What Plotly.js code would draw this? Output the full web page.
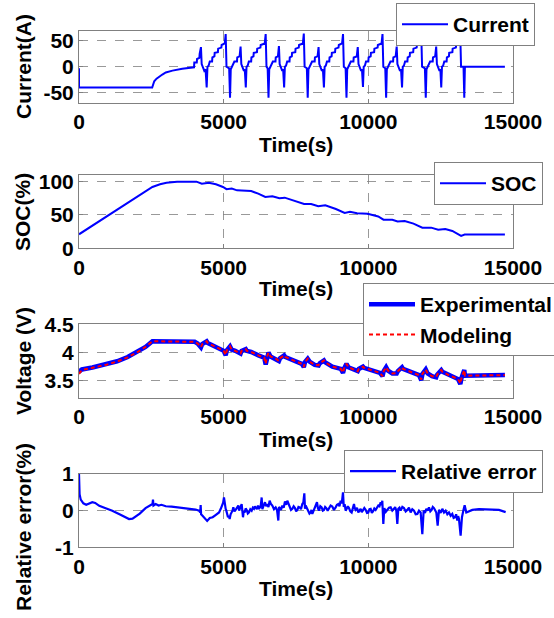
<!DOCTYPE html>
<html>
<head>
<meta charset="utf-8">
<script src="https://cdn.plot.ly/plotly-3.0.1.min.js"></script>
<style>html,body{margin:0;padding:0;background:#fff;}#chart{width:554px;height:618px;}</style>
</head>
<body>
<div id="chart"></div>
<script>
// ---------------- data ----------------
const timeCurrent = [
0, 0, 2530, 2560, 2600, 2680, 2770, 2880, 3000, 3230, 3570, 3920, 3975,
3985, 4070, 4080, 4160, 4170, 4215, 4240, 4280, 4330, 4375, 4413, 4440, 4480, 4520, 4600, 4610, 4680, 4690, 4800, 4810, 4920, 4930, 5038, 5070, 5098, 5190, 5220,
5245, 5280, 5320, 5370, 5460, 5470, 5550, 5560, 5585, 5610, 5650, 5700, 5730, 5765, 5790, 5830, 5870, 5950, 5960, 6030, 6040, 6150, 6160, 6270, 6280, 6420, 6452, 6480, 6520, 6550,
6575, 6610, 6650, 6700, 6790, 6800, 6875, 6885, 6910, 6935, 6975, 7025, 7055, 7090, 7115, 7155, 7195, 7275, 7285, 7355, 7365, 7475, 7485, 7595, 7605, 7738, 7770, 7798, 7875, 7905,
7930, 7965, 8005, 8055, 8145, 8155, 8245, 8255, 8280, 8305, 8345, 8395, 8430, 8465, 8490, 8530, 8570, 8650, 8660, 8730, 8740, 8850, 8860, 8970, 8980, 9093, 9125, 9153, 9215, 9245,
9270, 9305, 9345, 9395, 9485, 9495, 9600, 9610, 9635, 9660, 9700, 9750, 9780, 9815, 9840, 9880, 9920, 10000, 10010, 10080, 10090, 10200, 10210, 10320, 10330, 10458, 10490, 10518, 10585, 10615,
10640, 10675, 10715, 10765, 10855, 10865, 10945, 10955, 10980, 11005, 11045, 11095, 11130, 11165, 11190, 11230, 11270, 11350, 11360, 11430, 11440, 11550, 11560, 11670, 11680, 11798, 11830, 11858, 11955, 11985,
12010, 12045, 12085, 12135, 12225, 12235, 12310, 12320, 12345, 12370, 12410, 12460, 12490, 12520, 12545, 12585, 12625, 12705, 12715, 12785, 12795, 12905, 12915, 13025, 13035, 13148, 13180, 13205, 13290, 13316, 13338, 14720
];
const current = [
-3, -40, -40, -34, -28, -23, -19, -15, -11, -7.5, -4, -1.5, -1,
8, 8, 15, 17, 25, 38, 5, 0, -8, -5, -40, 0, 2, 10, 10, 18, 20, 27, 28, 35, 37, 42, 45, 63, 0, -3, -60,
-5, 0, 5, 10, 10, 18, 20, 27, 39, 5, 0, -8, -5, -40, 0, 2, 10, 10, 18, 20, 27, 28, 35, 37, 42, 45, 63, 0, -3, -60,
-5, 0, 5, 10, 10, 18, 20, 27, 40, 5, 0, -8, -5, -40, 0, 2, 10, 10, 18, 20, 27, 28, 35, 37, 42, 45, 64, 0, -3, -60,
-5, 0, 5, 10, 10, 18, 20, 27, 38, 5, 0, -8, -5, -40, 0, 2, 10, 10, 18, 20, 27, 28, 35, 37, 42, 45, 63, 0, -3, -60,
-5, 0, 5, 10, 10, 18, 20, 27, 38, 5, 0, -8, -5, -39, 0, 2, 10, 10, 18, 20, 27, 28, 35, 37, 42, 45, 63, 0, -3, -60,
-5, 0, 5, 10, 10, 18, 20, 27, 39, 5, 0, -8, -5, -40, 0, 2, 10, 10, 18, 20, 27, 28, 35, 37, 42, 45, 62, 0, -3, -60,
-5, 0, 5, 10, 10, 18, 20, 27, 39, 5, 0, -8, -5, -40, 0, 2, 10, 10, 18, 20, 27, 28, 35, 37, 42, 45, 56, 0, 0, -60, 0, 0
];

const timeSoc = [0, 951, 2537, 2800, 3024, 3390, 4060, 4244, 4488, 4732, 4976, 5098, 5280, 5463, 5951, 6195, 6439, 6683, 6927, 7110, 7415, 7780, 8024, 8268, 8512, 8878, 9183, 9366, 9610, 9976, 10341, 10524, 10829, 11012, 11256, 11561, 11866, 12171, 12415, 12659, 12902, 13207, 13329, 14720];
const soc = [21, 48, 92, 96, 98.5, 100, 100, 97, 98.5, 96, 92, 88.7, 89.6, 87, 86, 82, 77, 78, 75, 76, 71.4, 66.5, 66.5, 63, 64.5, 59, 53, 54.7, 52.7, 51.7, 47.8, 42.9, 42.9, 40.4, 40.9, 37, 31, 31, 28, 29, 26, 18.7, 20.7, 20.7];

const timeVoltage = [0, 100, 463, 951, 1317, 1683, 2049, 2300, 2537, 3000, 3500, 3900, 4000, 4100, 4215, 4260, 4413, 4450, 4610, 4800, 5000, 5070, 5110, 5220, 5280, 5400, 5585, 5620, 5765, 5800, 5951, 6200, 6400, 6452, 6490, 6550, 6620, 6805, 6910, 6950, 7090, 7130, 7415, 7700, 7770, 7810, 7905, 7970, 8146, 8280, 8320, 8465, 8500, 8756, 9050, 9125, 9165, 9245, 9310, 9488, 9635, 9670, 9815, 9850, 10098, 10400, 10490, 10530, 10615, 10680, 10829, 10980, 11020, 11165, 11200, 11439, 11750, 11830, 11870, 11985, 12050, 12200, 12345, 12380, 12520, 12560, 12781, 13100, 13180, 13220, 13316, 13340, 14720];
const voltageExperimental = [
3.66, 3.70, 3.735, 3.79, 3.845, 3.92, 4.02, 4.1, 4.2, 4.2,
4.2, 4.2, 4.19, 4.16, 4.09, 4.15, 4.2, 4.17, 4.13, 4.08,
4.03, 3.95, 4.04, 4.11, 4.05, 4.03, 3.98, 4.03, 4.06, 4.03,
4.01, 3.95, 3.91, 3.79, 3.92, 4.0, 3.93, 3.89, 3.85, 3.9,
3.95, 3.92, 3.86, 3.8, 3.74, 3.83, 3.89, 3.84, 3.78, 3.77,
3.81, 3.86, 3.83, 3.75, 3.71, 3.64, 3.72, 3.8, 3.74, 3.7,
3.67, 3.71, 3.75, 3.73, 3.69, 3.64, 3.58, 3.67, 3.74, 3.68,
3.63, 3.63, 3.67, 3.74, 3.71, 3.66, 3.6, 3.51, 3.62, 3.7,
3.63, 3.58, 3.56, 3.61, 3.69, 3.66, 3.6, 3.53, 3.44, 3.55,
3.69, 3.59, 3.6
];
const voltageModeling = [
3.62, 3.69, 3.73, 3.785, 3.84, 3.915, 4.015, 4.1, 4.2, 4.2,
4.2, 4.2, 4.19, 4.16, 4.095, 4.15, 4.2, 4.17, 4.13, 4.08,
4.03, 3.955, 4.04, 4.11, 4.05, 4.03, 3.985, 4.03, 4.06, 4.03,
4.01, 3.95, 3.91, 3.8, 3.92, 4.0, 3.93, 3.89, 3.85, 3.9,
3.95, 3.92, 3.86, 3.8, 3.745, 3.83, 3.89, 3.84, 3.78, 3.775,
3.81, 3.86, 3.83, 3.75, 3.71, 3.645, 3.72, 3.8, 3.74, 3.7,
3.67, 3.71, 3.75, 3.73, 3.69, 3.64, 3.58, 3.67, 3.74, 3.68,
3.63, 3.635, 3.67, 3.74, 3.71, 3.66, 3.6, 3.52, 3.62, 3.7,
3.63, 3.58, 3.565, 3.61, 3.69, 3.66, 3.6, 3.53, 3.45, 3.55,
3.69, 3.59, 3.6
];

const timeError = [
0, 20, 60, 150, 250, 350, 460, 560, 700, 900, 1150, 1400, 1600, 1730, 1850, 1950, 2100, 2300, 2450, 2540, 2557, 2575, 2650, 2750, 2850, 3000, 3200, 3450, 3700, 4030, 4150, 4190, 4205, 4220, 4270, 4330, 4380, 4430, 4520, 4620, 4720, 4840, 4900,
4954, 4982, 5011, 5028, 5046, 5069, 5092, 5120, 5149, 5178, 5207, 5240, 5276, 5305, 5334, 5374, 5414, 5460, 5507, 5535, 5564, 5593, 5622, 5645, 5668, 5696, 5725, 5760, 5795, 5835, 5875, 5921, 5967, 6008, 6048, 6077, 6106, 6146, 6186, 6220, 6255, 6284, 6313, 6336, 6359, 6393, 6428, 6468, 6509, 6549, 6589, 6635, 6682, 6740, 6797, 6843, 6889, 6912, 6935, 6981, 7027, 7073, 7119, 7160, 7200, 7240, 7281, 7327, 7373, 7419, 7465, 7505, 7546, 7586, 7626, 7672, 7718, 7753, 7788, 7811, 7834, 7880, 7926, 7966, 8006, 8035, 8064, 8110, 8156, 8190, 8225, 8260, 8294, 8340, 8387, 8427, 8467, 8507, 8548, 8594, 8640, 8697, 8755, 8812, 8870, 8916, 8963, 9003, 9043, 9083, 9124, 9152, 9181, 9216, 9251, 9291, 9331, 9377, 9423, 9463, 9504, 9533, 9562, 9608, 9654, 9694, 9734, 9774, 9815, 9861, 9907, 9953, 9999, 10040, 10080, 10120, 10161, 10207, 10253, 10299, 10345, 10385, 10426, 10455, 10483, 10518, 10552, 10604, 10656, 10713, 10771, 10828, 10886, 10926, 10967, 11002, 11036, 11076, 11117, 11175, 11232, 11290, 11347, 11404, 11462, 11520, 11578, 11635, 11693, 11750, 11808, 11866, 11912, 11958, 12004, 12050, 12096, 12142, 12188, 12228, 12269, 12309, 12349, 12396, 12442, 12500, 12557, 12615, 12672, 12730, 12787, 12845, 12902, 12948, 12995, 13035, 13075, 13104, 13133, 13190, 13236, 13283, 13329, 13386, 13478, 13594, 13824, 14170, 14515, 14746
];
const relativeError = [
1.0, 0.45, 0.3, 0.2, 0.16, 0.2, 0.23, 0.21, 0.13, 0.07, 0.0, -0.1, -0.18, -0.23, -0.22, -0.17, -0.08, 0.07, 0.14, 0.18, 0.3, 0.14, 0.18, 0.14, 0.16, 0.12, 0.11, 0.09, 0.06, 0.03, 0.0, -0.05, 0.15, -0.1, -0.14, -0.2, -0.25, -0.28, -0.2, -0.18, -0.12, -0.05, 0.05,
0.14, 0.22, 0.36, 0.2, 0.18, 0.05, 0.0, -0.12, -0.18, -0.14, -0.23, -0.1, -0.05, 0.0, 0.09, -0.02, 0.02, 0.1, 0.14, 0.0, 0.05, 0.12, 0.18, 0.0, -0.18, -0.02, -0.05, 0.06, 0.02, -0.08, -0.05, 0.04, 0.0, 0.08, 0.05, 0.12, 0.09, 0.04, 0.14, 0.05, 0.09, 0.15, 0.36, 0.04, 0.09, 0.17, 0.23, 0.12, 0.18, 0.1, 0.27, 0.18, 0.14, 0.04, 0.09, 0.02, -0.27, 0.1, 0.07, 0.02, 0.14, 0.08, 0.25, 0.16, 0.27, 0.2, 0.14, 0.02, 0.05, 0.12, 0.07, -0.02, 0.02, 0.1, 0.09, 0.04, 0.18, 0.22, 0.47, 0.05, 0.14, 0.06, 0.02, -0.08, -0.05, 0.02, -0.09, 0.0, 0.07, 0.14, 0.23, 0.06, 0.0, 0.12, 0.09, 0.0, 0.02, 0.1, 0.07, 0.0, 0.05, 0.14, 0.11, 0.02, 0.09, 0.16, 0.18, 0.12, 0.27, 0.2, 0.5, 0.1, 0.18, 0.0, 0.05, 0.12, 0.07, -0.02, -0.05, 0.06, 0.18, 0.06, 0.02, 0.08, -0.05, 0.0, 0.05, -0.04, 0.0, 0.07, 0.02, -0.06, -0.05, 0.04, 0.05, -0.06, -0.02, 0.06, 0.02, 0.08, 0.14, 0.12, 0.23, 0.15, 0.27, -0.36, 0.07, -0.03, 0.02, 0.08, 0.09, 0.0, 0.05, 0.1, 0.0, -0.36, 0.05, 0.08, 0.0, 0.1, 0.07, -0.02, 0.02, 0.08, -0.05, 0.04, 0.0, -0.1, -0.09, 0.0, -0.05, -0.64, 0.0, -0.06, 0.05, 0.0, 0.09, -0.02, 0.02, 0.1, 0.07, -0.02, -0.05, -0.41, 0.02, -0.06, 0.05, -0.05, 0.0, -0.1, -0.05, -0.14, -0.09, -0.2, -0.18, -0.1, -0.27, -0.15, -0.23, -0.68, -0.18, 0.0, 0.15, -0.05, -0.02, 0.02, 0.04, 0.03, 0.02, -0.04
];

const xTickValues = [0, 5000, 10000, 15000];
const xTickLabels = ['0', '5000', '10000', '15000'];
const currentTicks = [-50, 0, 50];
const socTicks = [0, 50, 100];
const voltageTicks = [3.5, 4, 4.5];
const voltageTickLabels = ['3.5', '4', '4.5'];
const errorTicks = [-1, 0, 1];

// ---------------- layout helpers ----------------
const W = 554, H = 618;
const FONT = {family: 'Liberation Sans, Arial, Helvetica, sans-serif', size: 21, color: '#000', weight: 'bold'};
const GRAY = '#808080';
const px = v => v / W;
const py = v => 1 - v / H;
const xl = 79, xr = 513;
const panels = [[30.5, 103], [175, 248.3], [324.3, 397.7], [474, 547.3]];

function xAxis(i, anchor) {
  return {
    domain: [px(xl), px(xr)], anchor: anchor, range: [0, 15000],
    tickvals: xTickValues, ticktext: xTickLabels, tickfont: FONT,
    showline: true, mirror: true, linecolor: GRAY, linewidth: 1,
    showgrid: true, gridcolor: GRAY, griddash: 'dash', gridwidth: 0.8,
    zeroline: false, ticks: 'inside', ticklen: 4, tickcolor: GRAY,
    automargin: false, fixedrange: true
  };
}
function yAxis(i, anchor, range, tv, tt) {
  const p = panels[i];
  return {
    domain: [py(p[1]), py(p[0])], anchor: anchor, range: range,
    tickvals: tv, ticktext: tt, tickfont: FONT,
    showline: true, mirror: true, linecolor: GRAY, linewidth: 1,
    showgrid: true, gridcolor: GRAY, griddash: 'dash', gridwidth: 0.8,
    zeroline: false, ticks: 'inside', ticklen: 4, tickcolor: GRAY,
    automargin: false, fixedrange: true
  };
}

const traces = [
  {x: timeCurrent, y: current, type: 'scatter', mode: 'lines', name: 'Current',
   line: {color: '#0000FF', width: 2}, xaxis: 'x', yaxis: 'y', legend: 'legend'},
  {x: timeSoc, y: soc, type: 'scatter', mode: 'lines', name: 'SOC',
   line: {color: '#0000FF', width: 2}, xaxis: 'x2', yaxis: 'y2', legend: 'legend2'},
  {x: timeVoltage, y: voltageExperimental, type: 'scatter', mode: 'lines', name: 'Experimental',
   line: {color: '#0000FF', width: 4.5}, xaxis: 'x3', yaxis: 'y3', legend: 'legend3'},
  {x: timeVoltage, y: voltageModeling, type: 'scatter', mode: 'lines', name: 'Modeling',
   line: {color: '#FF0000', width: 2, dash: '4px,3px'}, xaxis: 'x3', yaxis: 'y3', legend: 'legend3'},
  {x: timeError, y: relativeError, type: 'scatter', mode: 'lines', name: 'Relative error',
   line: {color: '#0000FF', width: 2.2}, xaxis: 'x4', yaxis: 'y4', legend: 'legend4'}
];

function legendAt(left, top) {
  return {x: px(left), y: py(top), xanchor: 'left', yanchor: 'top',
    bgcolor: '#FFFFFF', bordercolor: GRAY, borderwidth: 1, font: FONT,
    tracegroupgap: 0, itemwidth: 46};
}

function xTitle(yc) {
  return {text: 'Time(s)', x: px((xl + xr) / 2), y: py(yc), xref: 'paper', yref: 'paper',
    xanchor: 'center', yanchor: 'middle', showarrow: false, font: FONT};
}
function yTitle(text, yc) {
  return {text: text, x: px(23), y: py(yc), xref: 'paper', yref: 'paper', textangle: -90,
    xanchor: 'center', yanchor: 'middle', showarrow: false, font: FONT};
}

const layout = {
  width: W, height: H,
  margin: {l: 0, r: 0, t: 0, b: 0, autoexpand: false},
  paper_bgcolor: '#FFFFFF', plot_bgcolor: '#FFFFFF',
  font: FONT, showlegend: true,
  xaxis: xAxis(0, 'y'), yaxis: yAxis(0, 'x', [-70, 70], currentTicks, currentTicks.map(String)),
  xaxis2: xAxis(1, 'y2'), yaxis2: yAxis(1, 'x2', [0, 110], socTicks, socTicks.map(String)),
  xaxis3: xAxis(2, 'y3'), yaxis3: yAxis(2, 'x3', [3.2, 4.5], voltageTicks, voltageTickLabels),
  xaxis4: xAxis(3, 'y4'), yaxis4: yAxis(3, 'x4', [-1, 1], errorTicks, errorTicks.map(String)),
  legend: legendAt(396, 3),
  legend2: legendAt(434, 162),
  legend3: legendAt(363, 283),
  legend4: legendAt(344, 450),
  annotations: [
    xTitle(144), xTitle(289), xTitle(439), xTitle(588),
    yTitle('Current(A)', 67), yTitle('SOC(%)', 212), yTitle('Voltage (V)', 361), yTitle('Relative error(%)', 527)
  ]
};

Plotly.newPlot('chart', traces, layout, {displayModeBar: false, staticPlot: true});
</script>
</body>
</html>
